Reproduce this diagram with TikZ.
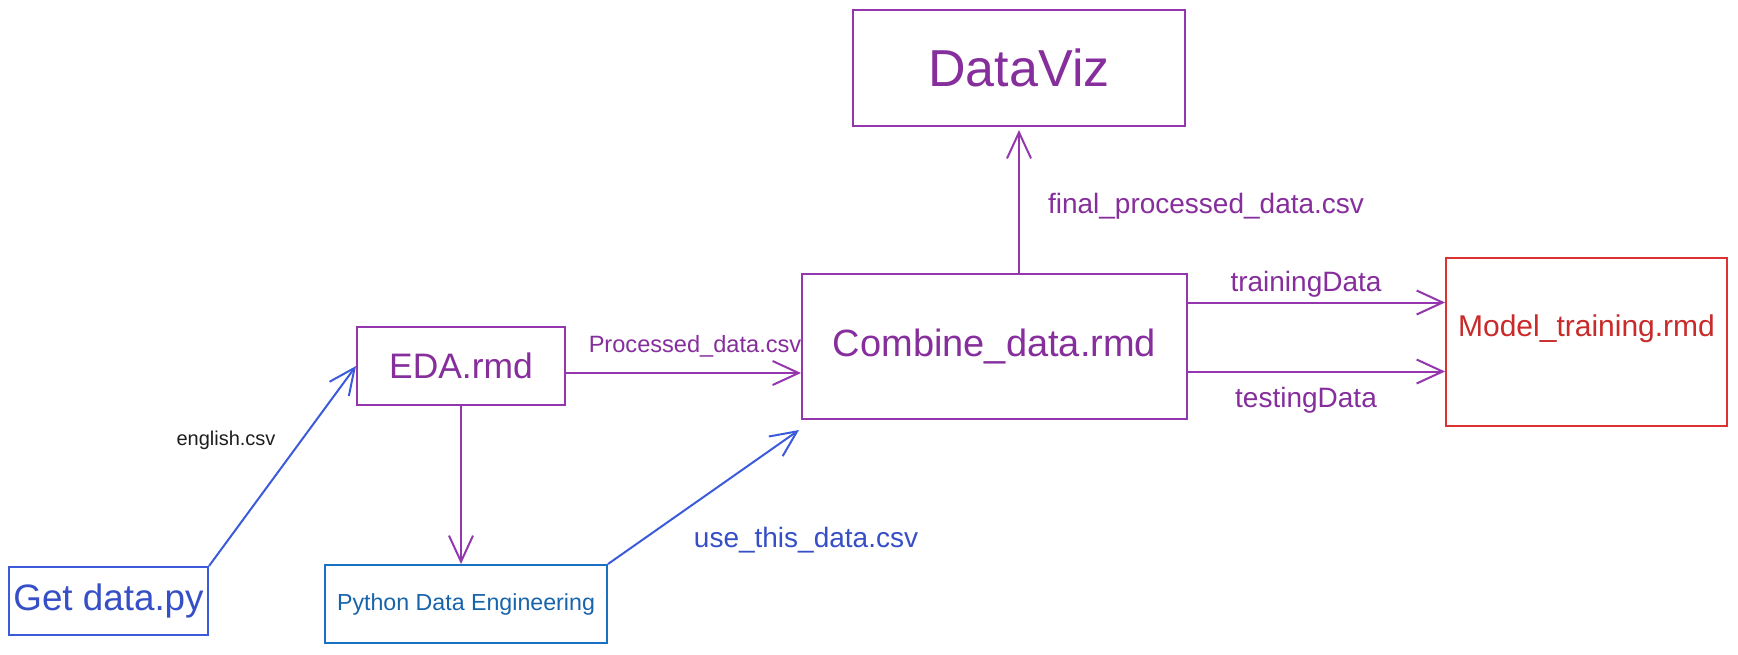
\documentclass[tikz,border=0pt]{standalone}
\usepackage{fontspec}
\setmainfont{Liberation Sans}
\usetikzlibrary{arrows.meta}
\definecolor{vio}{HTML}{9436AE}
\definecolor{vioTxt}{HTML}{862E9C}
\definecolor{ind}{HTML}{3B5BDB}
\definecolor{indTxt}{HTML}{364FC7}
\definecolor{pyblue}{HTML}{1971C2}
\definecolor{pyTxt}{HTML}{1864AB}
\definecolor{rd}{HTML}{E03131}
\definecolor{rdTxt}{HTML}{C92A2A}
\definecolor{ink}{HTML}{1E1E1E}
\begin{document}
\begin{tikzpicture}[x=0.5pt,y=-0.5pt,
  box/.style={draw, line width=1pt, rectangle, inner sep=0pt},
  flow/.style={line width=1pt, -{Straight Barb[length=13pt,width=12pt]}},
  lbl/.style={inner sep=0pt},
  fs/.style={font=\fontsize{#1}{#1}\selectfont}
]
\useasboundingbox[fill=white] (0,0) rectangle (1738,654);

% boxes
\node[box, draw=vio, text=vioTxt, minimum width=166pt, minimum height=58pt, fs=26] (dataviz) at (1019,68) {DataViz};
\node[box, draw=vio, text=vioTxt, minimum width=192.5pt, minimum height=72.5pt, fs=19] (combine) at (994.5,346.5) {Combine\_data.rmd};
\node[box, draw=vio, text=vioTxt, minimum width=104pt, minimum height=39pt, fs=17.7] (eda) at (461,366) {EDA.rmd};
\node[box, draw=ind, text=indTxt, minimum width=99.5pt, minimum height=34pt, fs=18.4] (getdata) at (108.5,601) {Get data.py};
\node[box, draw=pyblue, text=pyTxt, minimum width=141pt, minimum height=39pt, fs=11.6] (python) at (466,604) {Python Data Engineering};
\node[box, draw=rd, text=rdTxt, minimum width=140.5pt, minimum height=84pt, fs=15, text depth=16pt] (model) at (1586.5,342) {Model\_training.rmd};

% connectors
\draw[flow, draw=ind] (getdata.north east) -- (eda.west);
\draw[flow, draw=vio] ([yshift=-3.5pt]eda.east) -- ([yshift=-3.5pt]eda.east -| combine.west);
\draw[flow, draw=vio] (eda.south) -- (eda.south |- python.north);
\coordinate (combin) at ([xshift=-1pt,yshift=-5pt]combine.south west);
\draw[flow, draw=ind] (python.north east) -- (combin);
\draw[flow, draw=vio] (dataviz.south |- combine.north) -- ([yshift=-1.5pt]dataviz.south);
\draw[flow, draw=vio] ([yshift=22pt]combine.east) -- ([yshift=22pt]combine.east -| model.west);
\draw[flow, draw=vio] ([yshift=-12.5pt]combine.east) -- ([yshift=-12.5pt]combine.east -| model.west);

% labels
\node[lbl, text=ink, fs=10] (lenglish) at (226,440) {english.csv};
\node[lbl, text=vioTxt, fs=11.8] (lprocessed) at (695,346) {Processed\_data.csv};
\node[lbl, text=indTxt, fs=14] (luse) at (806,540) {use\_this\_data.csv};
\node[lbl, text=vioTxt, fs=14] (lfinal) at (1206,206) {final\_processed\_data.csv};
\node[lbl, text=vioTxt, fs=14] (ltrain) at (1306,284) {trainingData};
\node[lbl, text=vioTxt, fs=14] (ltest) at (1306,400) {testingData};
\end{tikzpicture}
\end{document}
